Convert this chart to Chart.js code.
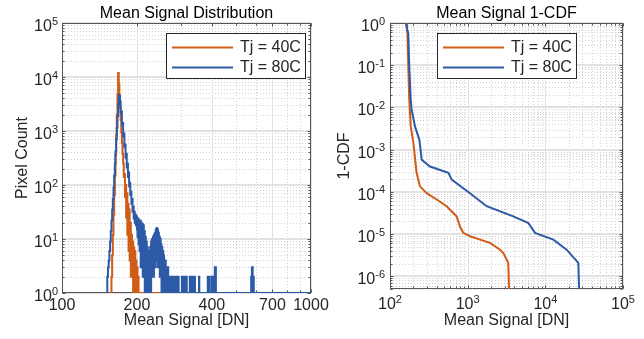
<!DOCTYPE html>
<html><head><meta charset="utf-8">
<script src="https://cdn.jsdelivr.net/npm/chart.js@4.4.1/dist/chart.umd.min.js"></script>
<style>
html,body{margin:0;padding:0;background:#fff;width:644px;height:339px;overflow:hidden;}
#c1{position:absolute;left:0;top:0;}
#c2{position:absolute;left:332px;top:0;}
</style></head><body>
<canvas id="c1" width="332" height="339"></canvas>
<canvas id="c2" width="312" height="339"></canvas>
<script>
// ---------------- DATA ----------------
const seriesNames = ['Tj = 40C', 'Tj = 80C'];
const seriesColors = ['#CF5C17', '#2D5AA6'];

// Left panel: histogram (1-DN bins, counts)
const hist40Start = 156;
const hist40Counts = [
  1,1,2,5,12,28,65,150,360,850,
  2000,4800,11800,7500,4600,2700,1600,950,600,380,
  250,140,160,60,100,25,70,12,45,6,
  35,4,20,2,12,2,9,1,7,1,
  6,1,4,1,3,1,2,1
];
const hist40TailDN = [1000];
const hist40TailCount = [1];

const hist80Start = 151;
const hist80Counts = [
  1,2,3,4,6,9,14,22,35,55,
  90,150,250,420,700,1150,1900,3100,4650,4300,
  3500,2200,2300,1300,1400,800,900,500,560,320,
  380,210,250,140,170,95,110,65,75,45,
  55,32,40,24,32,20,28,18,26,15,
  11,24,8,22,6,22,3,20,4,19,
  2,18,3,14,1,11,2,9,1,7,
  2,6,1,6,2,7,1,9,2,10,
  3,11,2,12,4,13,3,15,5,16,
  4,15,3,13,4,11,2,10,3,8,
  1,7,2,6,1,5,1,4,2,4,
  1,3,1,3,2,3,1,2,2,1,
  2,2,1,2,1,2,1
];
const hist80TailDN = [278,279,280,281,282,283,285,286,287,288,290,291,293,294,303,304,306,307,310,311,316,317,326,327,330,331,335,336,341,342,355,356,385,386,389,390,398,399,403,404,408,409,411,412,414,415,575,576,579,580,582,583,588,589,1000];
const hist80TailCount = [2,1,2,1,2,1,2,1,2,1,2,1,2,1,2,1,2,1,2,1,2,1,2,1,2,1,2,1,2,1,2,1,2,1,2,1,2,1,2,1,2,1,3,1,3,1,2,1,3,1,3,1,2,1,1];

// Right panel: 1-CDF
const cdf40DN  = [165, 168, 172, 177, 185, 200, 220, 243, 297, 399, 536, 654, 720, 795, 878, 1070, 1445, 1940, 2610, 2880, 3330, 3500];
const cdf40Val = [1, 0.5, 0.093, 0.0151, 0.00355, 0.00145, 2.82e-4, 1.35e-4, 9.3e-5, 6.6e-5, 4.57e-5, 3.16e-5, 2.63e-5, 1.51e-5, 1.07e-5, 8.9e-6, 7.4e-6, 6.2e-6, 4.27e-6, 3.55e-6, 2.09e-6, 1e-7];
const cdf80DN  = [160, 166, 172, 177, 185, 190, 210, 239, 256, 327, 564, 623, 1070, 1755, 3865, 6060, 7360, 12700, 18800, 26600, 27900];
const cdf80Val = [1, 0.7, 0.58, 0.0933, 0.0151, 0.0087, 0.00355, 0.0017, 5.75e-4, 3.98e-4, 2.82e-4, 1.95e-4, 9.3e-5, 4.57e-5, 2.63e-5, 1.82e-5, 1.07e-5, 7.4e-6, 4.27e-6, 2.09e-6, 1e-7];

// Tick labels
const leftXTicks = [100, 200, 400, 700, 1000];
const leftXTickLabels = ['100', '200', '400', '700', '1000'];
const leftYTicks = [1, 10, 100, 1000, 1e4, 1e5];
const leftYTickExp = ['0', '1', '2', '3', '4', '5'];
const rightXTicks = [1e2, 1e3, 1e4, 1e5];
const rightXTickExp = ['2', '3', '4', '5'];
const rightYTicks = [1, 1e-1, 1e-2, 1e-3, 1e-4, 1e-5, 1e-6];
const rightYTickExp = ['0', '-1', '-2', '-3', '-4', '-5', '-6'];

// ---------------- HELPERS ----------------
const FAM = '"Liberation Sans", Arial, Helvetica, sans-serif';
const TXT = '#262626';

function histPoints(start, counts, tailDN, tailCount) {
  const pts = counts.map((c, i) => ({x: start + i, y: c}));
  tailDN.forEach((d, i) => pts.push({x: d, y: tailCount[i]}));
  return pts;
}
function xyPoints(xs, ys) { return xs.map((x, i) => ({x, y: ys[i]})); }

function logGridValues(min, max) {
  const out = [];
  const d0 = Math.floor(Math.log10(min) + 1e-9), d1 = Math.ceil(Math.log10(max) - 1e-9);
  for (let d = d0; d <= d1; d++) for (let k = 1; k <= 9; k++) {
    const v = k * Math.pow(10, d);
    if (v >= min * 0.9999 && v <= max * 1.0001) out.push(v);
  }
  return out;
}

function drawPow(ctx, exp, x, yc, align) {
  ctx.font = '16px ' + FAM;
  const wb = ctx.measureText('10').width;
  ctx.font = '11px ' + FAM;
  const we = ctx.measureText(exp).width;
  const total = wb + we;
  const sx = align === 'right' ? x - total : x - total / 2;
  ctx.textAlign = 'left';
  ctx.font = '16px ' + FAM; ctx.textBaseline = 'middle';
  ctx.fillText('10', sx, yc);
  ctx.font = '11px ' + FAM; ctx.textBaseline = 'alphabetic';
  ctx.fillText(exp, sx + wb, yc - 2);
}

function makePlugin(cfg) {
  return {
    id: 'matlabAxes',
    beforeDatasetsDraw(chart) {
      const {ctx, chartArea: a, scales: {x, y}} = chart;
      ctx.save();
      ctx.lineWidth = 1;
      // minor grid (dotted)
      ctx.strokeStyle = '#d2d2d2';
      ctx.setLineDash([1, 2]);
      logGridValues(x.min, x.max).forEach(v => {
        const px = Math.round(x.getPixelForValue(v)) + 0.5;
        ctx.beginPath(); ctx.moveTo(px, a.top); ctx.lineTo(px, a.bottom); ctx.stroke();
      });
      logGridValues(y.min, y.max).forEach(v => {
        const py = Math.round(y.getPixelForValue(v)) + 0.5;
        ctx.beginPath(); ctx.moveTo(a.left, py); ctx.lineTo(a.right, py); ctx.stroke();
      });
      // major grid (solid)
      ctx.setLineDash([]);
      ctx.strokeStyle = '#e2e2e2';
      cfg.xTicks.forEach(v => {
        const px = Math.round(x.getPixelForValue(v)) + 0.5;
        ctx.beginPath(); ctx.moveTo(px, a.top); ctx.lineTo(px, a.bottom); ctx.stroke();
      });
      ctx.lineWidth = 2;
      cfg.yTicks.forEach(v => {
        const py = Math.round(y.getPixelForValue(v));
        ctx.beginPath(); ctx.moveTo(a.left, py); ctx.lineTo(a.right, py); ctx.stroke();
      });
      ctx.lineWidth = 1;
      // box
      ctx.strokeStyle = '#555555';
      const L = Math.round(a.left) + 0.5, R = Math.round(a.right) - 0.5;
      const T = Math.round(a.top) + 0.5, B = Math.round(a.bottom) - 0.5;
      ctx.strokeRect(L, T, R - L, B - T);
      // tick marks (inward)
      const tickX = (v, len) => {
        const px = Math.round(x.getPixelForValue(v)) + 0.5;
        ctx.beginPath(); ctx.moveTo(px, B); ctx.lineTo(px, B - len);
        ctx.moveTo(px, T); ctx.lineTo(px, T + len); ctx.stroke();
      };
      const tickY = (v, len) => {
        const py = Math.round(y.getPixelForValue(v)) + 0.5;
        ctx.beginPath(); ctx.moveTo(L, py); ctx.lineTo(L + len, py);
        ctx.moveTo(R, py); ctx.lineTo(R - len, py); ctx.stroke();
      };
      logGridValues(x.min, x.max).forEach(v => tickX(v, 2));
      logGridValues(y.min, y.max).forEach(v => tickY(v, 2));
      cfg.xTicks.forEach(v => tickX(v, 3));
      cfg.yTicks.forEach(v => tickY(v, 3));
      ctx.restore();
    },
    afterDraw(chart) {
      const {ctx, chartArea: a, scales: {x, y}} = chart;
      ctx.save();
      ctx.fillStyle = TXT;
      // y tick labels
      cfg.yTicks.forEach((v, i) => {
        drawPow(ctx, cfg.yExp[i], cfg.yLabelRight, y.getPixelForValue(v) + 3.5, 'right');
      });
      // x tick labels
      cfg.xTicks.forEach((v, i) => {
        const px = x.getPixelForValue(v);
        if (cfg.xExp) {
          drawPow(ctx, cfg.xExp[i], px, cfg.xLabelY, 'center');
        } else {
          ctx.font = '16px ' + FAM; ctx.textAlign = 'center'; ctx.textBaseline = 'middle';
          ctx.fillText(cfg.xLabels[i], px, cfg.xLabelY);
        }
      });
      // title
      const cx = (a.left + a.right) / 2;
      ctx.fillStyle = '#000';
      ctx.font = '16px ' + FAM; ctx.textAlign = 'center'; ctx.textBaseline = 'middle';
      ctx.fillText(cfg.title, cx, 14);
      // axis labels
      ctx.fillStyle = TXT;
      ctx.fillText(cfg.xTitle, cx, 321);
      ctx.save();
      ctx.translate(cfg.yTitleX, (a.top + a.bottom) / 2);
      ctx.rotate(-Math.PI / 2);
      ctx.fillText(cfg.yTitle, 0, 0);
      ctx.restore();
      // legend
      const lg = cfg.legend;
      ctx.fillStyle = '#fff';
      ctx.fillRect(lg.x, lg.y, lg.w, lg.h);
      ctx.strokeStyle = '#262626'; ctx.lineWidth = 1;
      ctx.strokeRect(lg.x + 0.5, lg.y + 0.5, lg.w - 1, lg.h - 1);
      const rows = [lg.y + 14.5, lg.y + 34.5];
      seriesNames.forEach((name, i) => {
        ctx.strokeStyle = seriesColors[i]; ctx.lineWidth = 2;
        ctx.beginPath(); ctx.moveTo(lg.x + 6, rows[i]); ctx.lineTo(lg.x + 67, rows[i]); ctx.stroke();
        ctx.fillStyle = TXT; ctx.font = '16px ' + FAM; ctx.textAlign = 'left'; ctx.textBaseline = 'middle';
        ctx.fillText(name, lg.x + 74, rows[i] + 0.5);
      });
      ctx.restore();
    }
  };
}

function makeChart(id, W, H, area, xr, yr, datasets, cfg) {
  return new Chart(document.getElementById(id).getContext('2d'), {
    type: 'line',
    data: {datasets},
    options: {
      responsive: false, animation: false, devicePixelRatio: 1, events: [],
      layout: {padding: {left: area.left, top: area.top, right: W - area.right, bottom: H - area.bottom}},
      scales: {
        x: {type: 'logarithmic', min: xr[0], max: xr[1], display: false},
        y: {type: 'logarithmic', min: yr[0], max: yr[1], display: false}
      },
      plugins: {legend: {display: false}, tooltip: {enabled: false}, title: {display: false}},
      elements: {point: {radius: 0}, line: {tension: 0}}
    },
    plugins: [makePlugin(cfg)]
  });
}

// Left chart
makeChart('c1', 332, 339, {left: 62, right: 311, top: 23, bottom: 293}, [100, 1000], [1, 1e5], [
  {label: seriesNames[0], data: histPoints(hist40Start, hist40Counts, hist40TailDN, hist40TailCount),
   borderColor: seriesColors[0], borderWidth: 2, stepped: true, fill: false, order: 1},
  {label: seriesNames[1], data: histPoints(hist80Start, hist80Counts, hist80TailDN, hist80TailCount),
   borderColor: seriesColors[1], borderWidth: 2, stepped: true, fill: false, order: 0}
], {
  xTicks: leftXTicks, xLabels: leftXTickLabels, xExp: null, xLabelY: 306,
  yTicks: leftYTicks, yExp: leftYTickExp, yLabelRight: 58,
  title: 'Mean Signal Distribution', xTitle: 'Mean Signal [DN]', yTitle: 'Pixel Count', yTitleX: 22.5,
  legend: {x: 166, y: 33, w: 140, h: 46}
});

// Right chart
makeChart('c2', 312, 339, {left: 58, right: 291, top: 23, bottom: 289}, [1e2, 1e5], [5e-7, 1], [
  {label: seriesNames[0], data: xyPoints(cdf40DN, cdf40Val), borderColor: seriesColors[0], borderWidth: 2, fill: false, order: 1},
  {label: seriesNames[1], data: xyPoints(cdf80DN, cdf80Val), borderColor: seriesColors[1], borderWidth: 2, fill: false, order: 0}
], {
  xTicks: rightXTicks, xExp: rightXTickExp, xLabelY: 304.5,
  yTicks: rightYTicks, yExp: rightYTickExp, yLabelRight: 53,
  title: 'Mean Signal 1-CDF', xTitle: 'Mean Signal [DN]', yTitle: '1-CDF', yTitleX: 13,
  legend: {x: 105, y: 33, w: 140, h: 46}
});
</script>
</body></html>
